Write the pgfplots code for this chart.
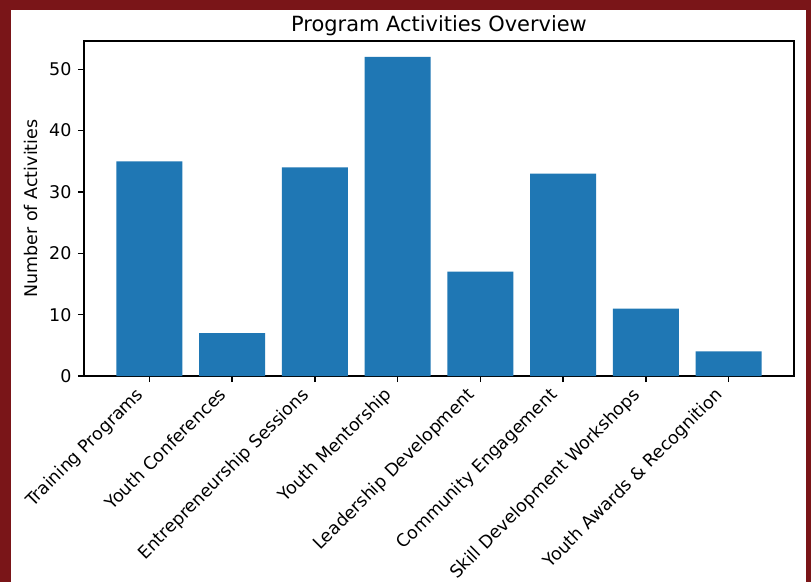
\documentclass[border=0pt]{standalone}
\usepackage{pgfplots}
\pgfplotsset{compat=1.18}
\usepackage{fontspec}
\setmainfont{DejaVu Sans}
\definecolor{frame}{HTML}{7A1518}
\definecolor{mplblue}{HTML}{1F77B4}
\begin{document}
\begin{tikzpicture}
% page background (811x582 px at 0.75pt per px)
\fill[frame] (0,0) rectangle (608.25pt,436.5pt);
\fill[white] (8.25pt,0) rectangle (604.5pt,429pt);
\begin{axis}[
    at={(63pt,154.5pt)}, anchor=south west,
    scale only axis,
    width=532.5pt, height=251.25pt,
    ybar, bar width=0.8,
    xmin=-0.79, xmax=7.79,
    ymin=0, ymax=54.6,
    xtick={0,...,7},
    xticklabels={Training Programs, Youth Conferences, Entrepreneurship Sessions, Youth Mentorship, Leadership Development, Community Engagement, Skill Development Workshops, Youth Awards \& Recognition},
    ytick={0,10,20,30,40,50},
    tick align=outside,
    major tick length=4.6pt,
    tick style={black, line width=1pt},
    axis line style={black, line width=1pt},
    xtick pos=lower, ytick pos=left,
    /pgf/number format/assume math mode=true,
    tick label style={font=\fontsize{13.1}{15}\selectfont},
    xticklabel style={anchor=north east, inner sep=0pt, text height=0.76em, text depth=0.24em, xshift=-9.2pt, yshift=-4.6pt, rotate=45},
    yticklabel style={inner sep=0pt, xshift=-4.6pt},
    title={Program Activities Overview},
    title style={font=\fontsize{15.7}{18}\selectfont, anchor=base, yshift=1.5pt},
    ylabel={Number of Activities},
    ylabel style={font=\fontsize{13.1}{15}\selectfont, at={(axis description cs:-0.0746,0.5)}, anchor=center},
]
\addplot[fill=mplblue, draw=none] coordinates {
    (0,35) (1,7) (2,34) (3,52) (4,17) (5,33) (6,11) (7,4)
};
\end{axis}
\end{tikzpicture}
\end{document}
